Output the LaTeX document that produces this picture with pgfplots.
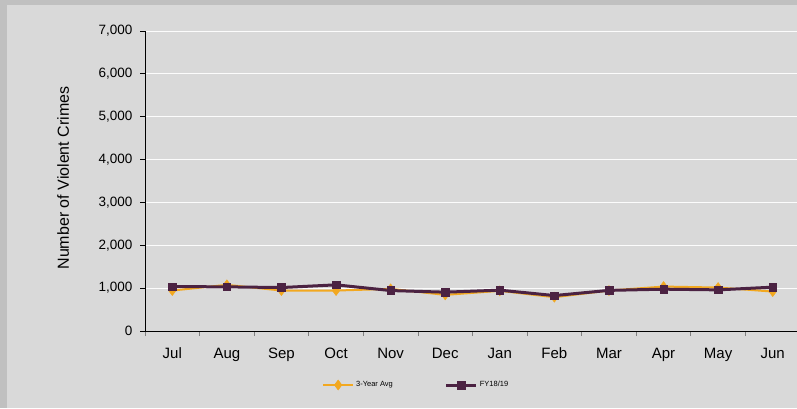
\documentclass[border=0pt]{standalone}
\usepackage{pgfplots}
\pgfplotsset{compat=1.18}
\usepackage{fontspec}
\setmainfont{Liberation Sans}
\definecolor{avgorange}{RGB}{242,168,32}
\definecolor{fyplum}{RGB}{75,34,66}
\definecolor{panel}{RGB}{217,217,217}
\definecolor{frame}{RGB}{192,192,192}
\begin{document}
\begin{tikzpicture}[x=1pt,y=1pt]
  \useasboundingbox (0,0) rectangle (797,408);
  \fill[frame] (0,0) rectangle (797,408);
  \fill[panel] (7,0) rectangle (797,403);
  \begin{axis}[
      at={(145pt,77pt)}, anchor=south west,
      scale only axis, width=655pt, height=300pt,
      xmin=-0.5, xmax=11.5, ymin=0, ymax=7000,
      axis x line=bottom, axis y line=left,
      axis line style={black, line width=1pt, -},
      xtick={0,...,11},
      xticklabels={Jul,Aug,Sep,Oct,Nov,Dec,Jan,Feb,Mar,Apr,May,Jun},
      major x tick style={draw=none},
      minor xtick={-0.5,0.5,...,11.5},
      minor x tick style={gray, line width=0.8pt},
      minor tick length=5pt,
      ytick={0,1000,...,7000},
      major tick length=5pt,
      tick align=outside,
      y tick style={black, line width=0.8pt},
      ymajorgrids, grid style={white!92!panel, line width=0.8pt},
      /pgf/number format/assume math mode=true,
      /pgf/number format/1000 sep={,},
      scaled y ticks=false,
      x tick label style={font=\fontsize{15}{18}\selectfont, yshift=-8pt,
        text height=11pt, text depth=3pt},
      y tick label style={font=\fontsize{13.5}{16}\selectfont, xshift=-4pt},
      ylabel={Number of Violent Crimes},
      ylabel style={font=\fontsize{16}{19}\selectfont, at={(axis description cs:-0.125,0.51)}, anchor=center, rotate=0},
      legend style={draw=none, fill=none, font=\fontsize{7.5}{9}\selectfont,
        at={(axis description cs:0.414,-0.18)}, anchor=center,
        /tikz/every even column/.append style={column sep=50pt}},
      legend columns=2,
      legend image code/.code={\draw[#1] (0pt,0pt) -- (15pt,0pt); \draw[#1, mark repeat=2, mark phase=2] plot coordinates {(0pt,0pt) (15pt,0pt) (30pt,0pt)}; \draw[#1] (15pt,0pt) -- (30pt,0pt);},
      clip=false,
    ]
    \addplot[color=avgorange, line width=2pt, mark=diamond*, mark size=5pt,
      mark options={solid, fill=avgorange, draw=avgorange, line width=0.5pt}]
      coordinates {(0,944) (1,1077) (2,944) (3,944) (4,983) (5,843)
                   (6,937) (7,789) (8,944) (9,1037) (10,1014) (11,920)};
    \addlegendentry{3-Year Avg}
    \addplot[color=fyplum, line width=3pt, mark=square*, mark size=3.8pt,
      mark options={solid, fill=fyplum, draw=fyplum, line width=0.5pt}]
      coordinates {(0,1037) (1,1030) (2,1014) (3,1077) (4,944) (5,906)
                   (6,953) (7,827) (8,948) (9,976) (10,960) (11,1023)};
    \addlegendentry{FY18/19}
  \end{axis}
\end{tikzpicture}
\end{document}
